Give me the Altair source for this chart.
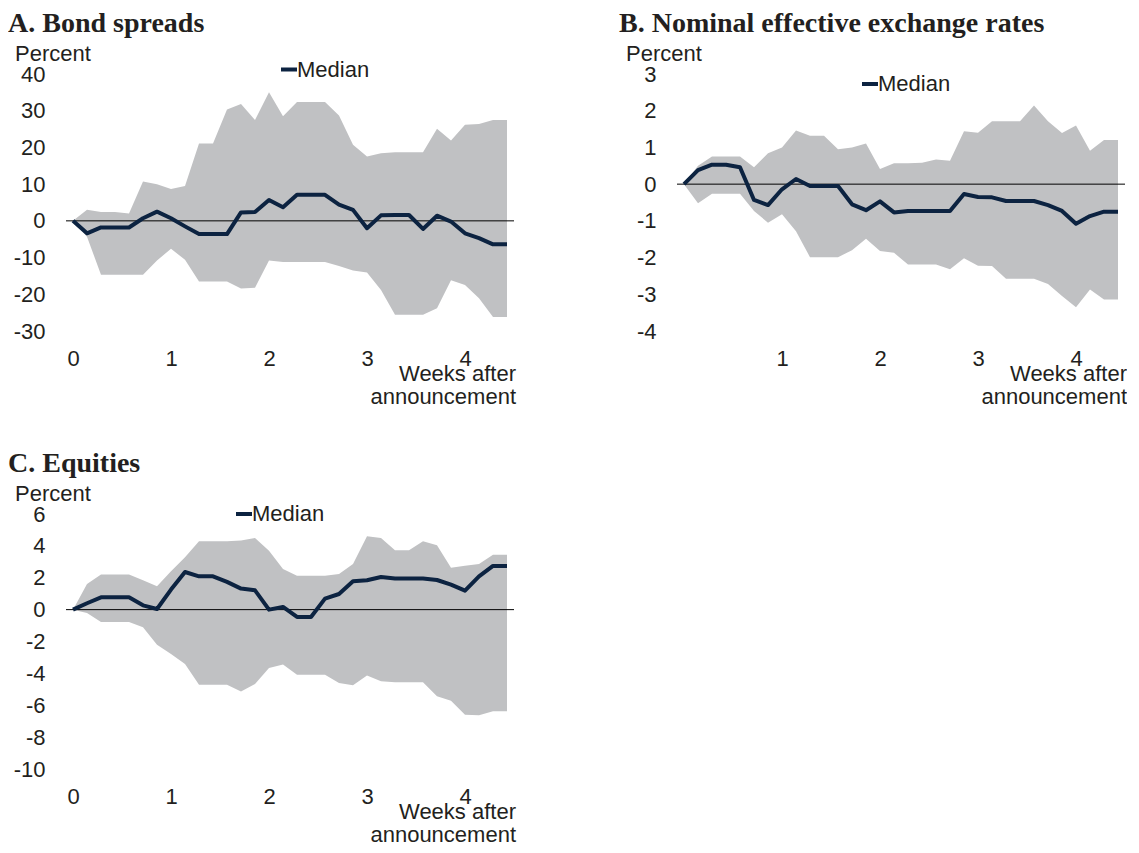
import altair as alt
import pandas as pd

# ---- data (day index after announcement, 7 days = 1 week) ----
days = [0, 1, 2, 3, 4, 5, 6, 7, 8, 9, 10, 11, 12, 13, 14, 15,
        16, 17, 18, 19, 20, 21, 22, 23, 24, 25, 26, 27, 28, 29, 30, 31]

a_med = [0, -3.4, -1.8, -1.8, -1.8, 0.7, 2.5, 0.7, -1.5, -3.6, -3.6, -3.6, 2.3, 2.4, 5.7, 3.7,
         7.1, 7.1, 7.1, 4.4, 3.0, -2.0, 1.5, 1.6, 1.6, -2.2, 1.4, -0.2, -3.4, -4.7, -6.4, -6.4]
a_hi = [0, 3.0, 2.4, 2.4, 2.0, 10.7, 10.0, 8.7, 9.5, 21.1, 21.1, 30.3, 31.8, 27.5, 35.0, 28.5,
        32.4, 32.4, 32.4, 28.7, 20.7, 17.5, 18.4, 18.7, 18.7, 18.7, 25.1, 21.9, 26.2, 26.4, 27.5, 27.5]
a_lo = [0, -4.3, -14.7, -14.7, -14.7, -14.7, -10.8, -7.6, -10.6, -16.5, -16.5, -16.5, -18.4, -18.2, -10.8, -11.2,
        -11.2, -11.2, -11.2, -12.3, -13.5, -14.1, -18.8, -25.6, -25.6, -25.6, -23.8, -16.2, -17.5, -21.1, -26.2, -26.2]

b_med = [0, 0.38, 0.53, 0.53, 0.46, -0.43, -0.57, -0.14, 0.14, -0.05, -0.05, -0.05, -0.55, -0.71, -0.47, -0.77,
         -0.73, -0.73, -0.73, -0.73, -0.27, -0.35, -0.36, -0.46, -0.46, -0.46, -0.57, -0.73, -1.08, -0.87, -0.75, -0.75]
b_hi = [0, 0.5, 0.75, 0.75, 0.75, 0.46, 0.84, 1.0, 1.46, 1.32, 1.32, 0.95, 1.0, 1.11, 0.41, 0.57,
        0.57, 0.58, 0.67, 0.64, 1.44, 1.4, 1.71, 1.71, 1.71, 2.14, 1.71, 1.39, 1.6, 0.91, 1.2, 1.2]
b_lo = [0, -0.52, -0.26, -0.26, -0.26, -0.73, -1.05, -0.82, -1.28, -1.99, -1.99, -1.99, -1.8, -1.49, -1.82, -1.87,
        -2.19, -2.19, -2.19, -2.32, -2.02, -2.22, -2.23, -2.58, -2.58, -2.58, -2.72, -3.05, -3.35, -2.87, -3.14, -3.14]

c_med = [0, 0.4, 0.77, 0.77, 0.77, 0.27, 0.04, 1.26, 2.36, 2.09, 2.09, 1.74, 1.32, 1.21, 0, 0.17,
         -0.46, -0.46, 0.69, 0.98, 1.78, 1.84, 2.05, 1.95, 1.95, 1.95, 1.86, 1.57, 1.19, 2.09, 2.74, 2.74]
c_hi = [0, 1.61, 2.2, 2.2, 2.2, 1.84, 1.46, 2.41, 3.28, 4.29, 4.29, 4.29, 4.33, 4.5, 3.7, 2.55,
        2.13, 2.13, 2.13, 2.24, 2.87, 4.6, 4.5, 3.72, 3.72, 4.29, 4.04, 2.62, 2.76, 2.87, 3.45, 3.45]
c_lo = [0, -0.21, -0.77, -0.77, -0.77, -1.11, -2.2, -2.78, -3.41, -4.71, -4.71, -4.71, -5.13, -4.67, -3.66, -3.45,
        -4.08, -4.08, -4.08, -4.6, -4.75, -4.14, -4.5, -4.56, -4.56, -4.56, -5.44, -5.71, -6.59, -6.63, -6.38, -6.38]

a_yticks = [-30, -20, -10, 0, 10, 20, 30, 40]
b_yticks = [-4, -3, -2, -1, 0, 1, 2, 3]
c_yticks = [-10, -8, -6, -4, -2, 0, 2, 4, 6]
ac_xticks = [0, 1, 2, 3, 4]
b_xticks = [1, 2, 3, 4]

titles = ["A. Bond spreads", "B. Nominal effective exchange rates", "C. Equities"]
unit_label = "Percent"
series_label = "Median"
xlab1, xlab2 = "Weeks after", "announcement"

GRAY = "#C0C1C3"
NAVY = "#0C2341"
TEXT = "#231F20"
SANS = "Liberation Sans"
SERIF = "Liberation Serif"


def panel(med, lo, hi, ydom, yvals, xvals, w, h, title, leg_x, leg_y):
    df = pd.DataFrame({"week": [d / 7 for d in days], "med": med, "lo": lo, "hi": hi})
    xs = alt.Scale(domain=[-0.5 / 7, 31.5 / 7], nice=False, zero=False)
    ys = alt.Scale(domain=ydom, nice=False, zero=False)
    xax = alt.Axis(values=xvals, labelExpr="toString(datum.value)", title=None,
                   labelPadding=17, tickSize=0, labelFlush=False)
    yax = alt.Axis(values=yvals, labelExpr="toString(datum.value)", title=None,
                   labelPadding=21, tickSize=0, labelFlush=False)
    base = alt.Chart(df)
    area = base.mark_area(color=GRAY, opacity=1).encode(
        x=alt.X("week:Q", scale=xs, axis=xax, title=None),
        y=alt.Y("lo:Q", scale=ys, axis=yax, title=None),
        y2="hi:Q",
    )
    zero = alt.Chart(pd.DataFrame({"z": [0]})).mark_rule(color="black", strokeWidth=1).encode(
        y=alt.Y("z:Q", scale=ys, axis=yax, title=None)
    )
    line = base.mark_line(color=NAVY, strokeWidth=4, strokeJoin="round").encode(
        x=alt.X("week:Q", scale=xs, axis=xax, title=None),
        y=alt.Y("med:Q", scale=ys, axis=yax, title=None),
    )

    def txt(s, x, y, size=22, font=SANS, weight="normal", align="left", baseline="alphabetic"):
        return alt.Chart(pd.DataFrame({"t": [s]})).mark_text(
            font=font, fontSize=size, fontWeight=weight, align=align, baseline=baseline, color=TEXT
        ).encode(x=alt.value(x), y=alt.value(y), text="t:N")

    leg_line = alt.Chart(pd.DataFrame({"t": [series_label]})).mark_rule(
        color=NAVY, strokeWidth=4
    ).encode(x=alt.value(leg_x), x2=alt.value(leg_x + 16), y=alt.value(leg_y))

    layers = [
        area, zero, line,
        txt(title, -58, -42, size=28, font=SERIF, weight="bold"),
        txt(unit_label, -51, -13),
        leg_line,
        txt(series_label, leg_x + 16, leg_y, baseline="middle"),
        txt(xlab1, w + 2, h + 50, align="right"),
        txt(xlab2, w + 2, h + 73, align="right"),
    ]
    return alt.layer(*layers).properties(width=w, height=h)


pa = panel(a_med, a_lo, a_hi, [-30, 40], a_yticks, ac_xticks, 448, 257, titles[0], 215, -4.5)
pb = panel(b_med, b_lo, b_hi, [-4, 3], b_yticks, b_xticks, 448, 257, titles[1], 185, 10)
pc = panel(c_med, c_lo, c_hi, [-10, 6], c_yticks, ac_xticks, 448, 255, titles[2], 170, 0)

chart = alt.concat(
    pa, pb, pc, columns=2, spacing={"row": 183, "column": 163}, bounds="flush"
).properties(
    padding={"left": 0, "top": 2, "right": 0, "bottom": 0}
).configure_view(stroke=None).configure_axis(
    domain=False, ticks=False, grid=False,
    labelFont=SANS, labelFontSize=22, labelColor=TEXT,
)

chart.save("out.html", embed_options={"renderer": "svg", "actions": False})
